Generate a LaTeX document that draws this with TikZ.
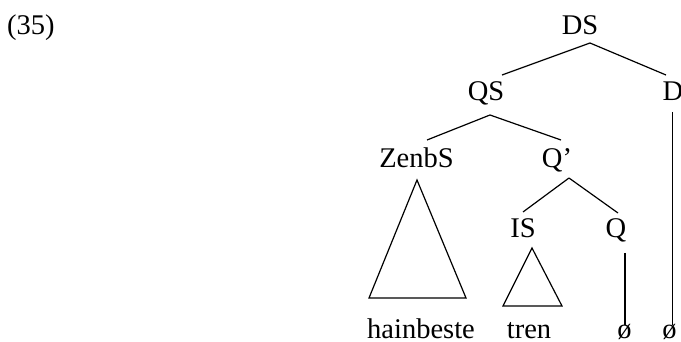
\documentclass[tikz,border=0pt]{standalone}
\usepackage{fontspec}
\setmainfont{Liberation Serif}
\begin{document}
\begin{tikzpicture}[x=1pt,y=-1pt,
  lbl/.style={inner sep=0pt,anchor=base,font=\fontsize{28.5}{34}\selectfont},
  edge/.style={line width=1.2pt,line cap=butt}]
\useasboundingbox (0,0) rectangle (681,342);
\node[lbl,anchor=base west] (ex) at (7,35) {(35)};
\node[lbl] (DS) at (580,35) {DS};
\node[lbl] (QS) at (486,101) {QS};
\node[lbl] (D) at (673,101) {D};
\node[lbl] (ZenbS) at (416.5,168) {ZenbS};
\node[lbl] (Qbar) at (557,168) {Q’};
\node[lbl] (IS) at (523,238) {IS};
\node[lbl] (Q) at (616,238) {Q};
\node[lbl] (hb) at (421,338) {hainbeste};
\node[lbl] (tren) at (529,338) {tren};
\node[lbl] (e1) at (624.5,338) {ø};
\node[lbl] (e2) at (669.5,338) {ø};
% branches
\draw[edge] ([shift={(10,8)}]DS.base) -- ([shift={(16,-26)}]QS.base);
\draw[edge] ([shift={(10,8)}]DS.base) -- ([shift={(-7,-26)}]D.base);
\draw[edge] ([shift={(4,14)}]QS.base) -- ([shift={(10.5,-28)}]ZenbS.base);
\draw[edge] ([shift={(4,14)}]QS.base) -- ([shift={(4,-28)}]Qbar.base);
\draw[edge] ([shift={(12,10)}]Qbar.base) -- ([shift={(0,-26)}]IS.base);
\draw[edge] ([shift={(12,10)}]Qbar.base) -- ([shift={(2,-25)}]Q.base);
% triangles
\draw[edge,line join=miter] ([shift={(0.5,12)}]ZenbS.base) -- ([shift={(-52,-40)}]hb.base) -- ([shift={(45,-40)}]hb.base) -- cycle;
\draw[edge,line join=miter] ([shift={(9,10)}]IS.base) -- ([shift={(-26,-32)}]tren.base) -- ([shift={(33,-32)}]tren.base) -- cycle;
% vertical lines
\draw[edge] ([shift={(9,15)}]Q.base) -- ([shift={(0.5,-13)}]e1.base);
\draw[edge] ([shift={(-0.5,11)}]D.base) -- ([shift={(3,-13)}]e2.base);
\end{tikzpicture}
\end{document}
